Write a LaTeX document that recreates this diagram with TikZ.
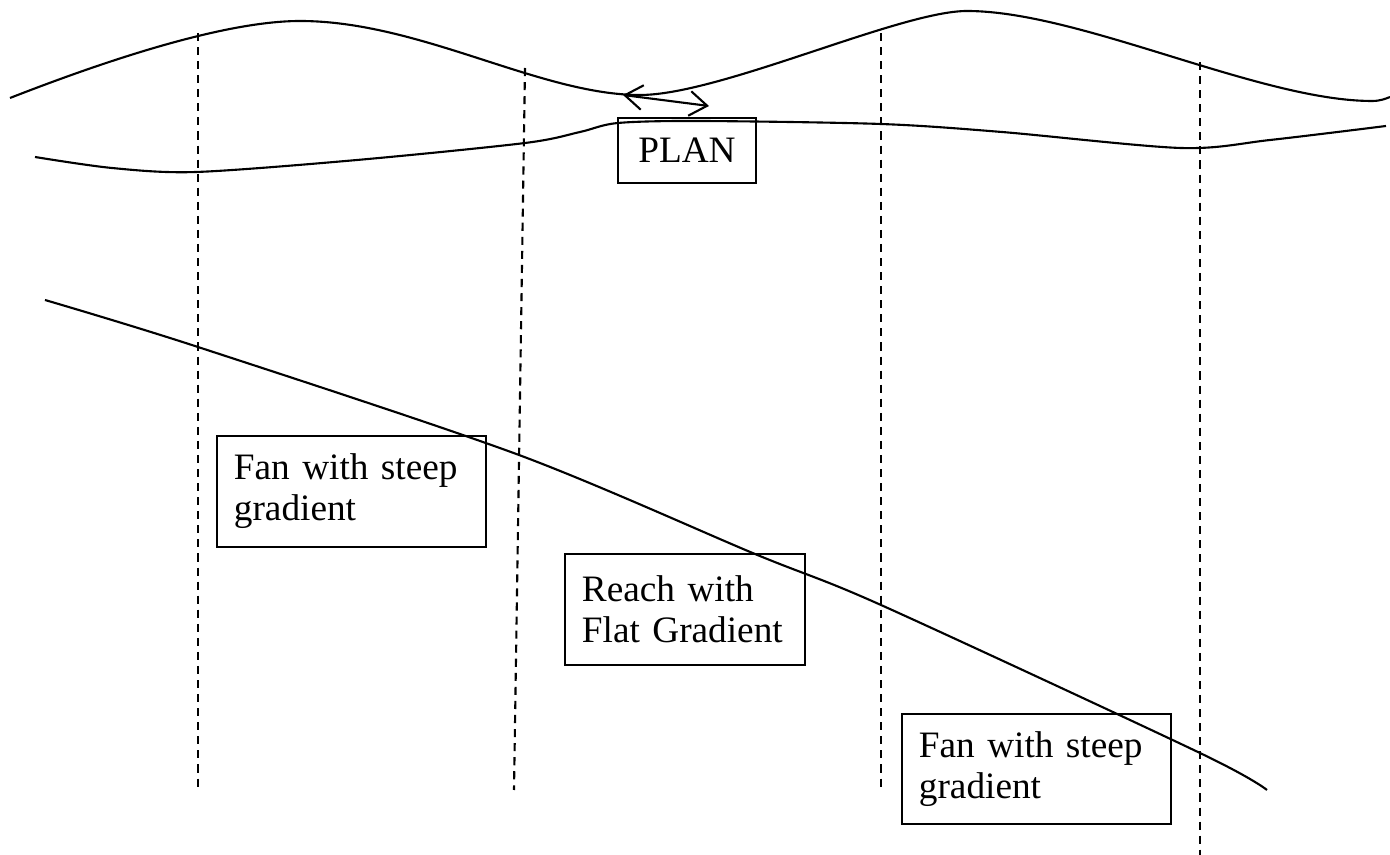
\documentclass[tikz,border=0pt]{standalone}
\usepackage{fontspec}
\setmainfont{Liberation Serif}
\usetikzlibrary{arrows.meta}
\tikzset{
    bank/.style={line width=0.6pt},
    cut/.style={line width=0.6pt,dash pattern=on 2.3pt off 1.7pt},
    note/.style={draw,line width=0.6pt,align=left,inner xsep=0.17cm,inner ysep=0pt,
        font=\fontsize{10.6}{11.7}\selectfont},
    flow/.style={line width=0.6pt,
        {Straight Barb[length=5pt,width=7pt]}-{Straight Barb[length=5pt,width=7pt]}}
}
\begin{document}
\begin{tikzpicture}[x=0.01cm,y=-0.01cm]
    \useasboundingbox (0,0) rectangle (1390,855);
    % plan: the two banks
    \draw[bank] (10,98) .. controls (120,55) and (230,21) .. (300,21)
      .. controls (420,21) and (540,95) .. (640,95)
      .. controls (720,95) and (900,11) .. (967,11)
      .. controls (1080,11) and (1260,101) .. (1372,101)
      .. controls (1380,101) and (1385,99) .. (1390,97);
    \draw[bank] plot[smooth] coordinates {(35,157) (112,168) (196,172) (357,160)
      (525,143) (580,132) (618,123) (700,121) (881,124) (1002,132) (1181,148)
      (1270,140) (1386,126)};
    \coordinate (wl) at (623,95);
    \coordinate (wr) at (709,106);
    \draw[flow] (wl) -- (wr);
    \node[note,inner xsep=0pt,minimum width=1.38cm,minimum height=0.65cm] (plan)
      at (687,150.5) {PLAN};
    %
    % long profile
    \draw[bank] plot[smooth] coordinates {(45,300) (198,347) (519,455) (755,554)
      (881,605) (1200,753) (1267,790)};
    \draw[cut] (198,33) -- (198,790);
    \draw[cut] (525,68) -- (514,790);
    \draw[cut] (881,33) -- (881,790);
    \draw[cut] (1200,62) -- (1200,855);
    %
    \node[note,minimum width=2.69cm,text width=2.35cm,minimum height=1.11cm] (fanup)
      at (351.5,491.5) {Fan with steep\\gradient};
    \node[note,minimum width=2.40cm,text width=2.06cm,minimum height=1.11cm] (reach)
      at (685,609.5) {Reach with\\Flat Gradient};
    \node[note,minimum width=2.69cm,text width=2.35cm,minimum height=1.10cm] (fandown)
      at (1036.5,769) {Fan with steep\\gradient};
\end{tikzpicture}
\end{document}
